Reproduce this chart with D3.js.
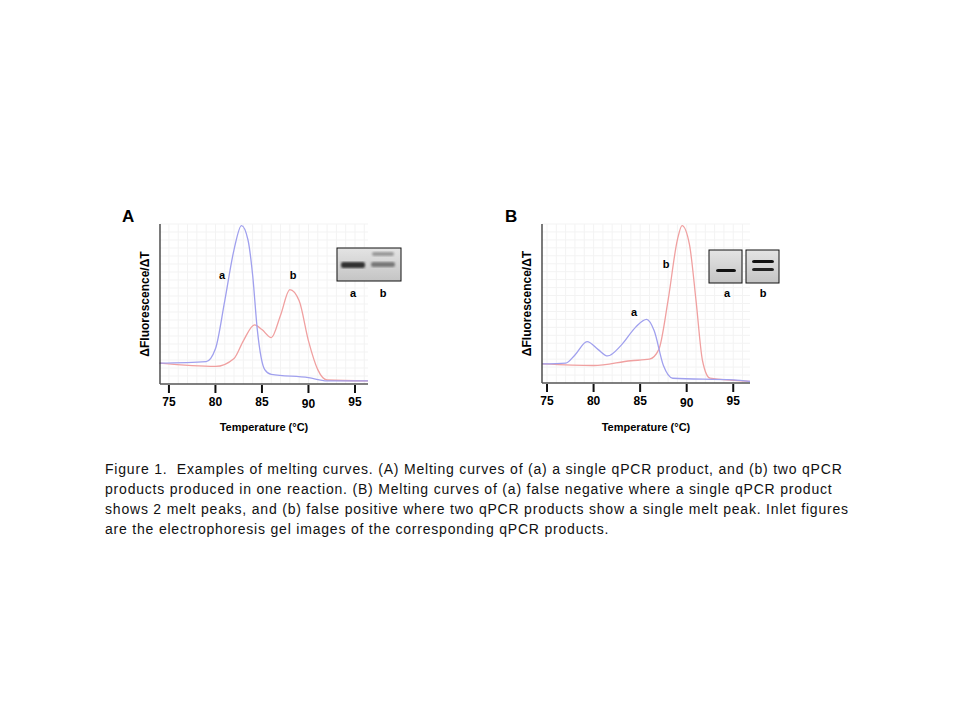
<!DOCTYPE html>
<html><head><meta charset="utf-8">
<script src="https://cdn.jsdelivr.net/npm/d3@7"></script>
<style>body{margin:0;background:#fff}</style></head>
<body><svg id="c" width="960" height="720"></svg>
<script>
const ticks = [75, 80, 85, 90, 95];
const aTemp = [74, 79, 80, 81, 82, 82.8, 83.5, 84, 84.5, 85.3, 86, 90, 92, 96.4];
const aBlue = [13, 14, 22, 52, 84, 99, 90, 68, 34, 9, 6, 4, 2, 2];
const aRedT = [74, 80, 82, 83, 84.2, 85, 86, 87, 88, 89, 90, 91, 92, 96.4];
const aRed = [13, 11, 16, 27, 37, 34, 29, 43, 59, 52, 27, 9, 2.5, 2];
const bBlueT = [74.5, 77, 78, 79.3, 80.5, 81.5, 83, 84.5, 85.7, 86.5, 87.5, 88.5, 95, 96.8];
const bBlue = [12, 12.5, 17.6, 26, 21, 17, 24, 35, 40, 33, 11, 3, 2, 1];
const bRedT = [74.5, 80, 84, 86, 87, 88, 89, 89.5, 90.3, 91, 91.7, 92.5, 96.8];
const bRed = [12, 11, 14, 15, 21, 52, 90, 99, 87, 52, 14, 3, 1];
const caption = [
 "Figure 1.  Examples of melting curves. (A) Melting curves of (a) a single qPCR product, and (b) two qPCR",
 "products produced in one reaction. (B) Melting curves of (a) false negative where a single qPCR product",
 "shows 2 melt peaks, and (b) false positive where two qPCR products show a single melt peak. Inlet figures",
 "are the electrophoresis gel images of the corresponding qPCR products."];

const svg = d3.select("#c");
const defs = svg.append("defs");
defs.append("filter").attr("id","blur").append("feGaussianBlur").attr("stdDeviation","1.2");
const g1 = defs.append("linearGradient").attr("id","gel").attr("x1",0).attr("y1",0).attr("x2",0).attr("y2",1);
g1.append("stop").attr("offset","0").attr("stop-color","#e4e4e4");
g1.append("stop").attr("offset","1").attr("stop-color","#c4c4c4");

function panel(o) {
  const x = d3.scaleLinear().domain(o.dom).range([o.x0, o.x1]);
  const y = d3.scaleLinear().domain([0, 100]).range([o.y1, o.y0]);
  const g = svg.append("g");
  for (let t = Math.ceil(o.dom[0]); t <= o.dom[1]; t++)
    g.append("line").attr("x1", x(t)).attr("x2", x(t)).attr("y1", o.y0).attr("y2", o.y1).attr("stroke", "#f3f3f3");
  for (let v = 5; v <= 100; v += 5)
    g.append("line").attr("x1", o.x0).attr("x2", o.x1).attr("y1", y(v)).attr("y2", y(v)).attr("stroke", "#f3f3f3");
  const line = d3.line().curve(d3.curveMonotoneX);
  g.append("path").attr("d", line(o.rt.map((t,i)=>[x(t), y(o.rv[i])]))).attr("fill","none").attr("stroke","#f0a0a0").attr("stroke-width",1.3);
  g.append("path").attr("d", line(o.bt.map((t,i)=>[x(t), y(o.bv[i])]))).attr("fill","none").attr("stroke","#a0a0ee").attr("stroke-width",1.3);
  g.append("line").attr("x1", o.x0).attr("x2", o.x0).attr("y1", o.y0).attr("y2", o.y1).attr("stroke","#222").attr("stroke-width",1.2);
  g.append("line").attr("x1", o.x0).attr("x2", o.x1).attr("y1", o.y1).attr("y2", o.y1).attr("stroke","#555").attr("stroke-width",1.5);
  ticks.forEach(t => {
    g.append("line").attr("x1", x(t)).attr("x2", x(t)).attr("y1", o.y1+1).attr("y2", o.y1+9).attr("stroke","#111").attr("stroke-width",2);
    g.append("text").attr("x", x(t)).attr("y", o.y1 + (t===90 ? 24 : 22)).attr("text-anchor","middle")
      .attr("font-family","Arial, Liberation Sans").attr("font-weight","bold").attr("font-size",12).text(t);
  });
  g.append("text").attr("x", (o.x0+o.x1)/2).attr("y", 431).attr("text-anchor","middle")
    .attr("font-family","Arial, Liberation Sans").attr("font-weight","bold").attr("font-size",11).text("Temperature (°C)");
  g.append("text").attr("transform",`translate(${o.x0-11},${(o.y0+o.y1)/2}) rotate(-90)`).attr("text-anchor","middle")
    .attr("font-family","Arial, Liberation Sans").attr("font-weight","bold").attr("font-size",12).text("ΔFluorescence/ΔT");
  g.append("text").attr("x", o.lx).attr("y", 222).attr("font-family","Arial, Liberation Sans").attr("font-weight","bold").attr("font-size",17).text(o.letter);
  o.labels.forEach(l => g.append("text").attr("x", l[0]).attr("y", l[1]).attr("text-anchor","middle")
    .attr("font-family","Arial, Liberation Sans").attr("font-weight","bold").attr("font-size",11).text(l[2]));
  o.gels.forEach(gl => {
    g.append("rect").attr("x", gl.x).attr("y", gl.y).attr("width", gl.w).attr("height", gl.h).attr("fill","url(#gel)").attr("stroke","#111").attr("stroke-width",1);
    gl.bands.forEach(b => g.append("rect").attr("x", b[0]).attr("y", b[1]).attr("width", b[2]).attr("height", b[3]).attr("rx",2)
      .attr("fill", b[4]).attr("filter", gl.blur ? "url(#blur)" : null));
  });
}

panel({dom:[74.04, 96.4], x0:160, x1:368, y0:224, y1:384, rt:aRedT, rv:aRed, bt:aTemp, bv:aBlue, letter:"A", lx:122,
  labels:[[222,279,"a"],[293,279,"b"],[353,297,"a"],[383,297,"b"]],
  gels:[{x:337,y:248,w:64,h:33,blur:true,bands:[[341,262,24,6,"#333"],[371,262,24,5,"#777"],[372,252,22,4,"#999"]]}]});
panel({dom:[74.46, 96.8], x0:542, x1:750, y0:224, y1:383, rt:bRedT, rv:bRed, bt:bBlueT, bv:bBlue, letter:"B", lx:505,
  labels:[[634,316,"a"],[666,268,"b"],[727,297,"a"],[763,297,"b"]],
  gels:[{x:709,y:250,w:33,h:33,blur:false,bands:[[716,269,20,3,"#111"]]},
        {x:746,y:250,w:33,h:33,blur:false,bands:[[752,260,22,3,"#111"],[752,268,22,3,"#222"]]}]});

const ct = svg.append("text").attr("font-family","Arial, Liberation Sans").attr("font-size",14).attr("fill","#111")
  .attr("letter-spacing","0.8px").style("white-space","pre");
caption.forEach((s,i) => ct.append("tspan").attr("x",105).attr("y",474 + i*20).text(s));
</script></body></html>
